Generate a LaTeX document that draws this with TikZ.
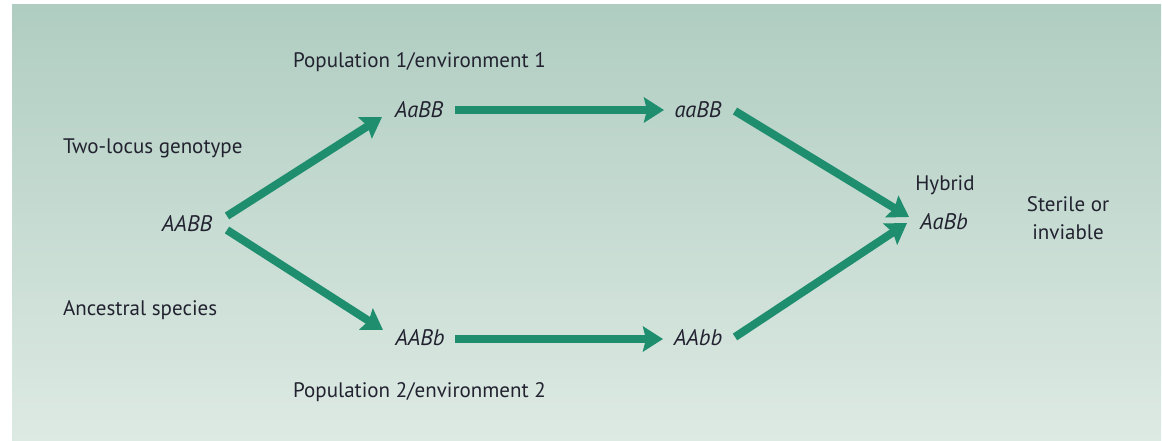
\documentclass[tikz,border=0pt]{standalone}
\usepackage{fontspec}
\setmainfont{PT Sans}
\usetikzlibrary{arrows.meta,shadings}
\definecolor{arrowgreen}{RGB}{30,142,110}
\definecolor{txt}{RGB}{34,34,48}
\definecolor{bgtop}{RGB}{176,205,193}
\definecolor{bgbot}{RGB}{221,234,227}
\tikzset{
  lbl/.style={inner sep=0pt, anchor=west, text=txt, font=\fontsize{21}{25}\selectfont},
  geno/.style={inner sep=0pt, text=txt, font=\fontsize{22.5}{26}\selectfont\itshape},
  arr/.style={draw=arrowgreen, line width=8pt, -{Stealth[width=25pt,length=20pt,inset=3pt]}}
}
\begin{document}
\begin{tikzpicture}[x=1pt,y=-1pt]
\useasboundingbox (0,0) rectangle (1162,441);
\shade[top color=bgtop, bottom color=bgbot] (12,5) rectangle (1161,441);
% labels
\node[lbl] (pop1) at (293,62) {Population 1/environment 1};
\node[lbl] (twolocus) at (63,148) {Two-locus genotype};
\node[lbl] (ancestral) at (63,310) {Ancestral species};
\node[lbl] (pop2) at (293,392) {Population 2/environment 2};
\node[inner sep=0pt, text=txt, font=\fontsize{21}{25}\selectfont] (hybrid) at (945,185) {Hybrid};
\node[inner sep=0pt, text=txt, align=center, font=\fontsize{21}{28}\selectfont] (sterile) at (1068,218) {Sterile or\\inviable};
% genotypes
\node[geno] (AABB) at (187,224) {AABB};
\node[geno] (AaBB) at (419,110) {AaBB};
\node[geno] (aaBB) at (698,110) {aaBB};
\node[geno] (AABb) at (420,338) {AABb};
\node[geno] (AAbb) at (698,338) {AAbb};
\node[geno] (AaBb) at (944,222) {AaBb};
% arrows
\draw[arr] ([shift={(40,-8)}]AABB.center) -- ([shift={(-37,7)}]AaBB.center);
\draw[arr] ([shift={(40,6)}]AABB.center) -- ([shift={(-37,-8)}]AABb.center);
\draw[arr] ([xshift=36]AaBB.center) -- ([xshift=-34]aaBB.center);
\draw[arr] ([shift={(35,1)}]AABb.center) -- ([shift={(-35,1)}]AAbb.center);
\draw[arr] ([shift={(37,1)}]aaBB.center) -- ([shift={(-35,-5)}]AaBb.center);
\draw[arr] ([shift={(37,-1)}]AAbb.center) -- ([shift={(-37,1)}]AaBb.center);
\end{tikzpicture}
\end{document}
